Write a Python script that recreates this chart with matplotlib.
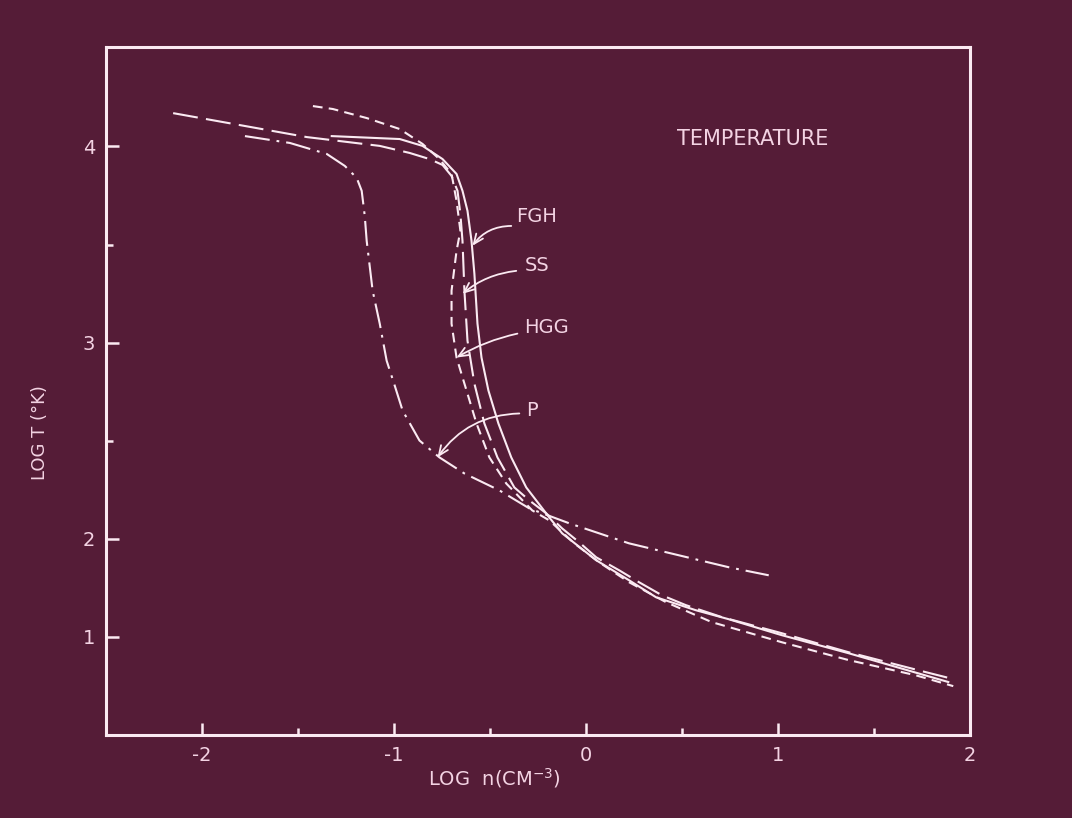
import numpy as np
import matplotlib
matplotlib.use("Agg")
import matplotlib.pyplot as plt

# ---------------- data ----------------
fgh_x = [-1.325, -0.971, -0.852, -0.748, -0.675, -0.644, -0.618, -0.597, -0.582, -0.566,
         -0.545, -0.509, -0.457, -0.390, -0.312, -0.192, -0.125, 0.052, 0.223, 0.364,
         0.571, 0.743, 1.018, 1.366, 1.886]
fgh_y = [4.053, 4.038, 4.003, 3.936, 3.860, 3.774, 3.672, 3.519, 3.351, 3.097,
         2.924, 2.756, 2.588, 2.415, 2.262, 2.109, 2.028, 1.891, 1.789, 1.702,
         1.636, 1.590, 1.509, 1.417, 1.270]

ss_x = [-2.151, -1.803, -1.455, -1.075, -0.919, -0.816, -0.748, -0.701, -0.670, -0.655,
        -0.644, -0.634, -0.618, -0.582, -0.530, -0.462, -0.374, -0.296, -0.208, -0.125,
        -0.036, 0.052, 0.171, 0.275, 0.395, 0.519, 0.706, 1.018, 1.366, 1.766, 1.912]
ss_y = [4.170, 4.109, 4.048, 4.003, 3.967, 3.936, 3.906, 3.850, 3.774, 3.656,
        3.519, 3.265, 3.010, 2.791, 2.588, 2.415, 2.262, 2.196, 2.130, 2.053,
        1.982, 1.906, 1.840, 1.779, 1.712, 1.662, 1.601, 1.519, 1.422, 1.321, 1.285]

hgg_x = [-1.423, -1.319, -1.143, -0.971, -0.852, -0.764, -0.701, -0.675, -0.655, -0.675,
         -0.701, -0.701, -0.675, -0.623, -0.571, -0.504, -0.416, -0.281, -0.192, -0.062,
         0.068, 0.223, 0.416, 0.655, 1.018, 1.366, 1.714, 1.912]
hgg_y = [4.206, 4.191, 4.145, 4.089, 4.013, 3.936, 3.860, 3.723, 3.570, 3.468,
         3.265, 3.097, 2.924, 2.756, 2.588, 2.415, 2.282, 2.145, 2.094, 1.977,
         1.880, 1.779, 1.677, 1.575, 1.473, 1.382, 1.305, 1.249]

p_x = [-1.777, -1.543, -1.351, -1.257, -1.195, -1.169, -1.153, -1.143, -1.112, -1.075,
       -1.039, -0.997, -0.956, -0.868, -0.764, -0.634, -0.452, -0.296, -0.088, 0.223,
       0.483, 0.743, 0.951]
p_y = [4.053, 4.018, 3.962, 3.901, 3.840, 3.774, 3.646, 3.519, 3.265, 3.097,
       2.908, 2.781, 2.654, 2.501, 2.415, 2.333, 2.247, 2.155, 2.079, 1.977,
       1.916, 1.855, 1.814]

x_ticks = [-2, -1, 0, 1, 2]
x_tick_labels = ["-2", "-1", "0", "1", "2"]
y_ticks = [1.5, 2, 3, 4]
y_tick_labels = ["1", "2", "3", "4"]

labels = ["FGH", "SS", "HGG", "P"]
label_pos = [(-0.364, 3.641), (-0.322, 3.392), (-0.322, 3.076), (-0.312, 2.654)]
arrow_start = [(-0.390, 3.595), (-0.364, 3.366), (-0.358, 3.046), (-0.348, 2.639)]
arrow_tip = [(-0.592, 3.494), (-0.644, 3.249), (-0.675, 2.924), (-0.774, 2.415)]
arrow_rad = [0.25, 0.15, 0.08, 0.25]

# ---------------- style ----------------
BG = "#551c37"
LINE = "#fbeaf2"
TXT = "#f3d3e3"
plt.rcParams["lines.scale_dashes"] = False
plt.rcParams["font.family"] = ["DejaVu Sans"]

fig = plt.figure(figsize=(10.72, 8.18), dpi=100, facecolor=BG)
ax = fig.add_axes([0.099, 0.1015, 0.806, 0.841], facecolor=BG)

lw = 1.5
ax.plot(fgh_x, fgh_y, color=LINE, lw=lw, solid_joinstyle="round")
ax.plot(ss_x, ss_y, color=LINE, lw=lw, linestyle=(0, (18, 6)))
ax.plot(hgg_x, hgg_y, color=LINE, lw=lw, linestyle=(0, (7, 4.5)))
ax.plot(p_x, p_y, color=LINE, lw=lw, linestyle=(0, (18, 5, 2, 5)))

for lab, pos, st, tip, rad in zip(labels, label_pos, arrow_start, arrow_tip, arrow_rad):
    ax.text(pos[0], pos[1], lab, color=TXT, fontsize=14, ha="left", va="center")
    ax.annotate("", xy=tip, xytext=st,
                arrowprops=dict(arrowstyle="->,head_length=0.7,head_width=0.3",
                                color=LINE, lw=1.3,
                                connectionstyle=f"arc3,rad={rad}",
                                shrinkA=0, shrinkB=0))

ax.text(0.473, 4.038, "TEMPERATURE", color=TXT, fontsize=15, ha="left", va="center")

ax.set_xlim(-2.5, 2.0)
ax.set_ylim(1.0, 4.507)
ax.set_xticks(x_ticks)
ax.set_xticklabels(x_tick_labels)
ax.set_yticks(y_ticks)
ax.set_yticklabels(y_tick_labels)
ax.set_xticks([-1.5, -0.5, 0.5, 1.5], minor=True)
ax.set_yticks([2.5, 3.5], minor=True)
ax.tick_params(which="major", direction="in", length=9, width=1.8, colors=LINE,
               labelcolor=TXT, labelsize=14, pad=8)
ax.tick_params(which="minor", direction="in", length=5, width=1.8, colors=LINE)
for s in ax.spines.values():
    s.set_color(LINE)
    s.set_linewidth(2.2)

ax.text(0.45, -0.063, "LOG  n(CM$^{-3}$)", transform=ax.transAxes, color=TXT,
        fontsize=14, ha="center", va="center")
ax.text(-0.077, 0.44, "LOG T (°K)", transform=ax.transAxes, color=TXT,
        fontsize=13, ha="center", va="center", rotation=90)

fig.savefig("out.png", dpi=100, facecolor=BG)
